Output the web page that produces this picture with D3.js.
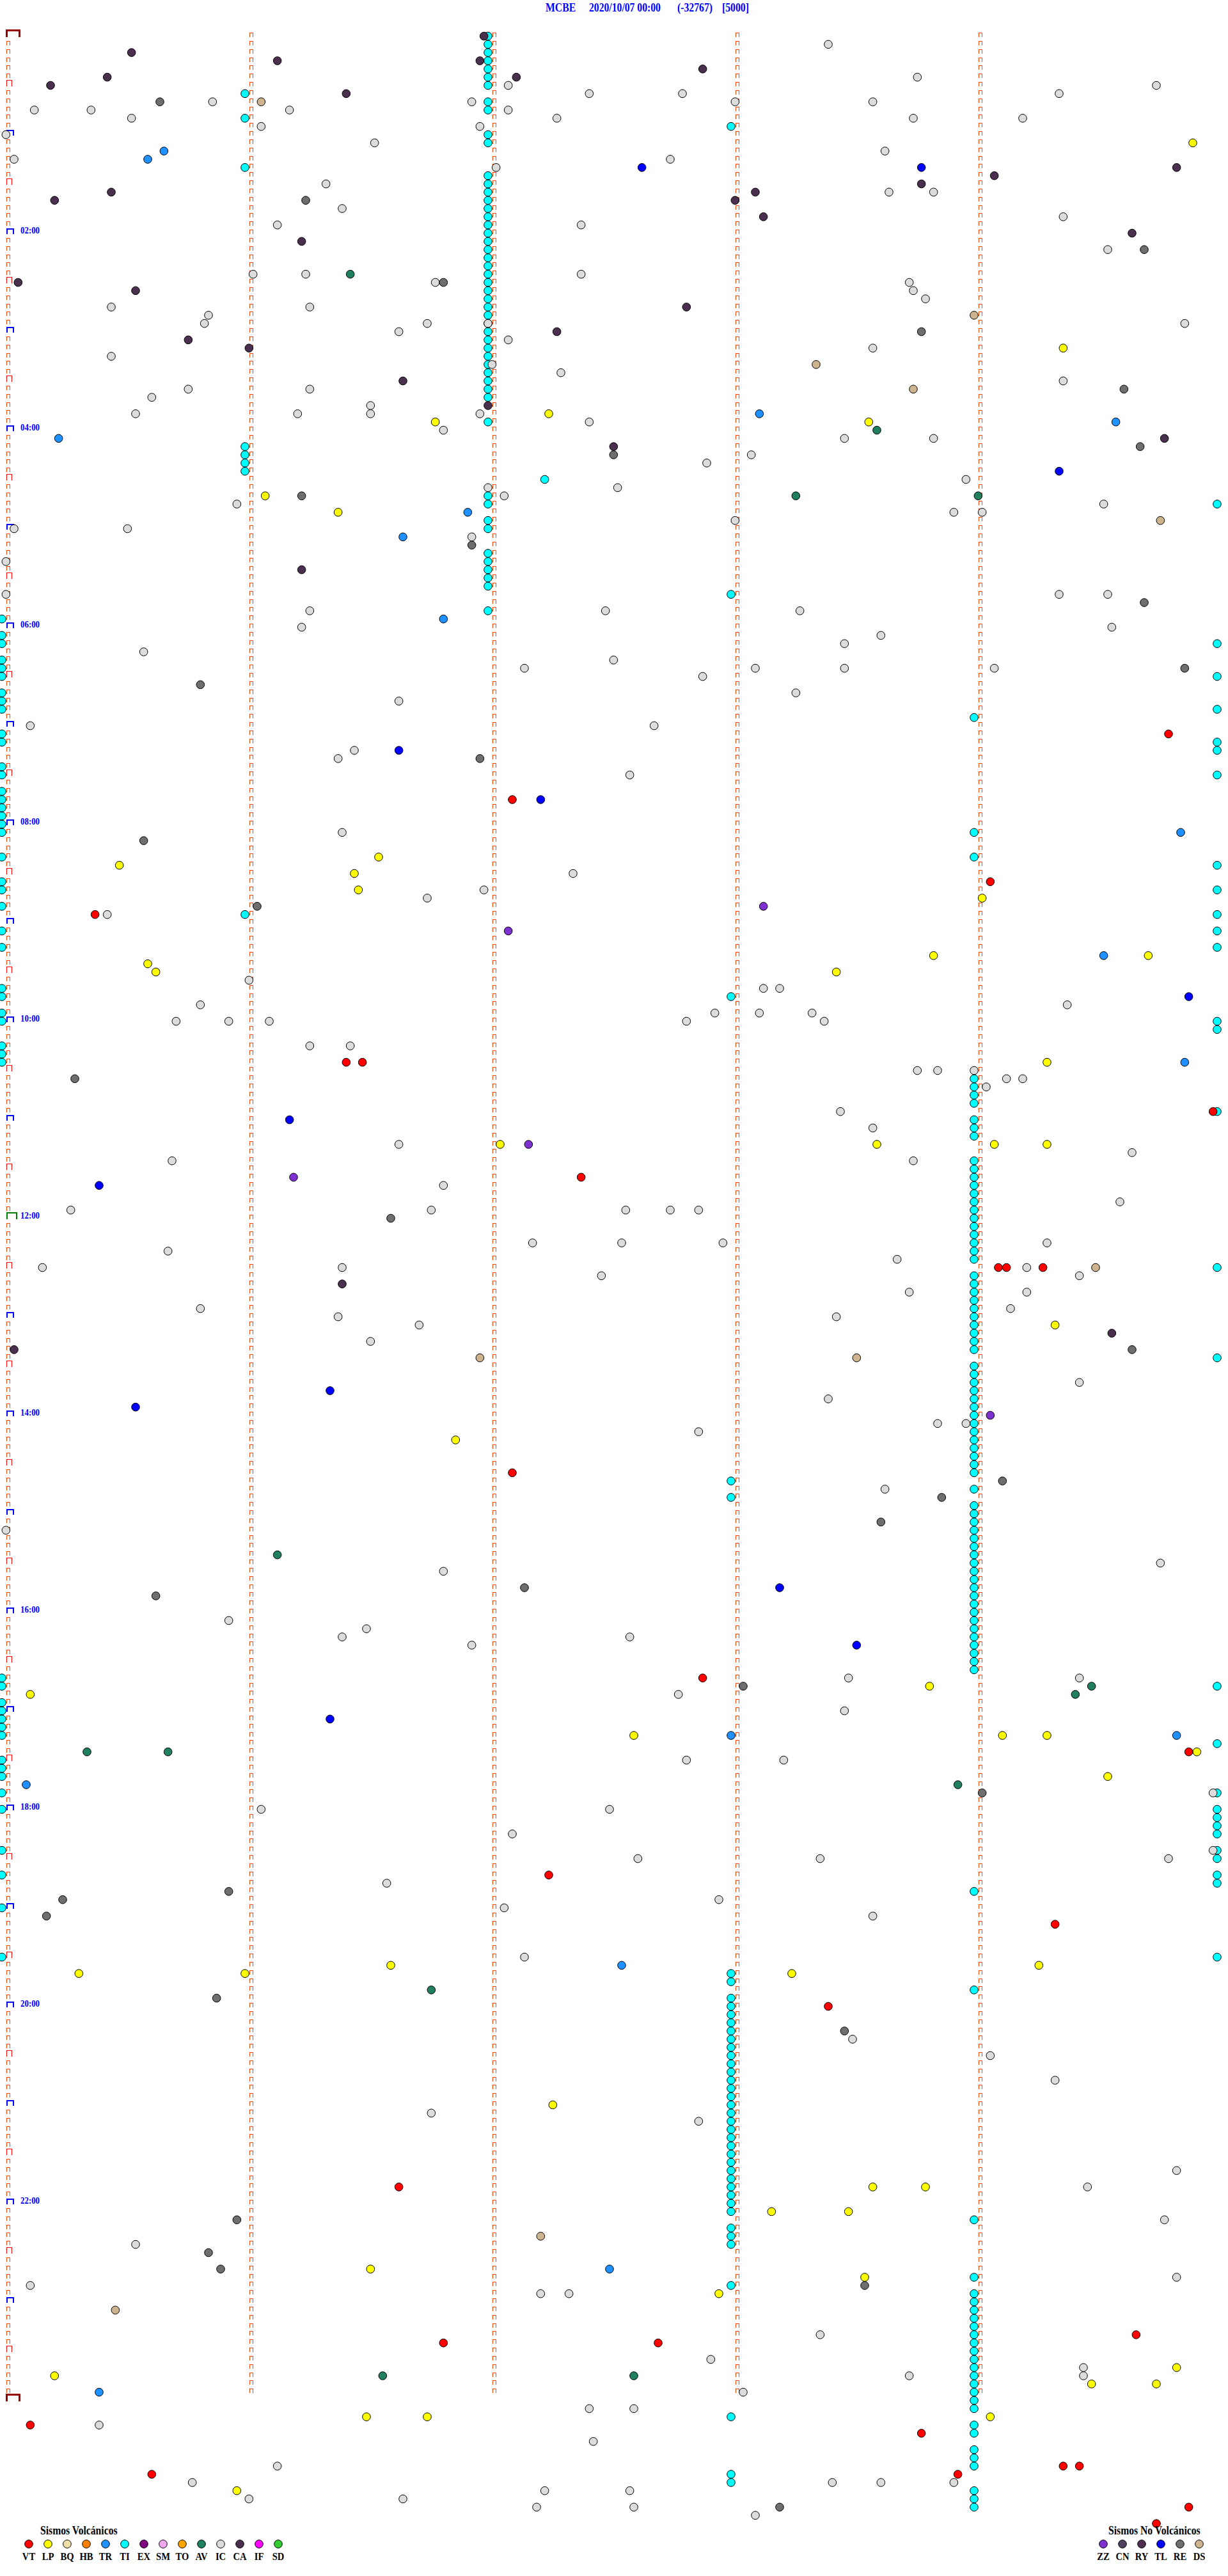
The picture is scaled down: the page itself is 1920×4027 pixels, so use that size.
<!DOCTYPE html>
<html><head><meta charset="utf-8">
<script src="https://cdn.jsdelivr.net/npm/d3@7"></script>
<style>body{margin:0;background:#fff}svg{display:block}</style>
</head><body><svg id="c" width="1920" height="4027"></svg>
<script>
// ---- header ----
const station = "MCBE";
const startTime = "2020/10/07 00:00";
const minCount = "(-32767)";
const scaleVal = "[5000]";

// ---- time axis: 288 lines of 5 minutes, minute ticks at 0,60,120,180,240 s ----
const lineCount = 288;
const minuteTicks = [0, 60, 120, 180, 240];
const hourLabelLines = [24, 48, 72, 96, 120, 144, 168, 192, 216, 240, 264];
const hourLabels = ["02:00","04:00","06:00","08:00","10:00","12:00","14:00","16:00","18:00","20:00","22:00"];

// ---- legend ----
const volcCodes = ["VT","LP","BQ","HB","TR","TI","EX","SM","TO","AV","IC","CA","IF","SD"];
const volcColors = ["#FF0000","#FFFF00","#F0E0A8","#FF8000","#1E90FF","#00FFFF","#800080","#F0A8F0","#FFA500","#1F7F5F","#DCDCDC","#4A2F4F","#FF00FF","#33CC33"];
const nonVolcCodes = ["ZZ","CN","RY","TL","RE","DS"];
const nonVolcColors = ["#7F30D0","#504060","#503050","#0000FF","#6E6E6E","#CDB48E"];

// ---- events: [line (5-min row), seconds into line] ----
// TI (cyan) stacked near the minute ticks, listed by line
const TI_0s = [71,73,74,76,77,78,80,81,82,85,86,89,90,92,93,94,95,96,97,100,103,104,106,109,111,116,117,119,120,123,124,125,200,201,203,204,205,206,207,210,211,212,214,216,221,224,228,234];
const TI_60s = [7,10,16,50,51,52,53,107];
const TI_120s = [0,1,2,3,4,5,6,8,9,12,13,17,18,19,20,21,22,23,24,25,26,27,28,29,30,31,32,33,34,35,36,37,38,39,40,41,42,43,44,47,56,57,59,60,63,64,65,66,67,70];
const TI_180s = [11,68,117,176,178,236,237,239,240,241,242,243,244,245,246,247,248,249,250,251,252,253,254,255,256,257,258,259,260,261,262,263,264,265,267,268,269,274,290,297,298];
const TI_240s = [83,97,100,127,128,129,130,132,133,134,137,138,139,140,141,142,143,144,145,146,147,148,149,151,152,153,154,155,156,157,158,159,160,162,163,164,165,166,167,168,169,170,171,172,173,174,175,177,179,180,181,182,183,184,185,186,187,188,189,190,191,192,193,194,195,196,197,198,199,226,238,266,273,275,276,277,278,279,280,281,282,283,284,285,286,287,288,289,291,292,294,295,296,299,300,301];
const TI_300s = [57,74,78,82,86,87,90,101,104,107,109,111,120,121,131,150,161,201,208,214,216,217,218,219,221,222,224,225,234];
const TI_other = [[54,134]];

const IC = [[1,204],[5,226],[6,125],[6,285],[7,145],[7,168],[7,261],[8,52],[8,116],[8,181],[8,215],[9,8],[9,22],[9,71],[9,125],[10,32],[10,137],[10,225],[10,252],[11,64],[11,118],[12,1],[13,92],[14,218],[15,3],[15,165],[16,122],[18,80],[19,219],[19,230],[21,84],[22,262],[23,68],[23,143],[26,273],[29,62],[29,75],[29,143],[30,107],[30,224],[31,225],[32,228],[33,27],[33,76],[34,51],[35,50],[35,105],[35,120],[35,292],[36,98],[37,125],[38,215],[39,27],[40,121],[41,138],[42,262],[43,46],[43,76],[44,37],[45,91],[46,33],[46,73],[46,91],[46,118],[47,145],[48,109],[49,208],[49,230],
[51,185],[52,174],[54,238],[55,120],[55,152],[56,124],[57,58],[57,272],[58,235],[58,242],[59,181],[60,3],[60,31],[61,116],[64,1],[68,1],[68,261],[68,273],[70,76],[70,149],[70,197],[72,74],[72,274],[73,217],[74,208],[75,35],[76,151],[77,129],[77,186],[77,208],[77,245],[78,173],[80,196],[81,98],[84,7],[84,161],[87,87],[88,83],[90,155],[97,84],
[102,141],[104,119],[105,105],[107,26],[115,61],[116,188],[116,192],[118,49],[118,263],[119,176],[119,187],[119,200],[120,43],[120,56],[120,66],[120,169],[120,203],[123,76],[123,86],[126,226],[126,231],[126,240],[127,248],[127,252],[128,243],[131,207],[133,215],[135,98],[136,279],[137,42],[137,225],[140,109],[142,276],[143,17],[143,106],[143,154],[143,165],[143,172],[147,131],[147,153],[147,178],[147,258],[148,41],[149,221],[150,10],[150,84],[150,253],[151,148],[151,266],
[153,224],[153,253],[155,49],[155,249],[156,83],[156,206],[157,103],[159,91],[164,266],[166,204],[169,231],[169,238],[170,172],[177,218],[182,1],[186,286],[187,109],[193,56],[194,90],[195,84],[195,155],[196,116],[200,209],[200,266],
[202,167],[204,208],[210,169],[210,193],[214,299],[216,64],[216,150],[219,126],[221,299],[222,157],[222,202],[222,288],[225,95],[227,177],[228,124],[229,215],[234,129],[244,210],[246,244],[249,260],
[253,106],[254,172],[260,290],[262,268],[266,287],[269,33],[273,290],[274,7],[275,133],[275,140],[280,202],[283,175],[284,267],[285,224],[285,267],[287,183],[289,145],[289,156],[291,24],[293,146],[296,68],[298,47],[298,205],[298,217],[298,235],[299,134],[299,155],[300,61],[300,99],[301,132],[301,156],[302,186]];

const CA = [[0,119],[2,32],[3,68],[3,118],[4,173],[5,26],[5,127],[6,12],[7,85],[16,290],[17,245],[18,227],[19,27],[19,186],[20,13],[20,181],[22,188],[24,279],[25,74],[30,4],[31,33],[33,169],[36,137],[37,46],[38,61],[42,99],[45,120],[49,287],[50,151],[65,74],[152,84],[158,274],[160,3]];

const RE = [[8,39],[20,75],[26,282],[30,109],[36,227],[43,277],[50,281],[51,151],[56,74],[62,116],[69,282],[77,292],[79,49],[88,118],[98,35],[106,63],[127,18],[144,96],[160,279],[176,247],[178,232],[181,217],[189,129],[190,38],[201,183],[214,242],[226,56],[227,15],[229,11],[239,53],[243,208],[266,58],[270,51],[272,54],[274,213],[301,192]];

const TR = [[14,40],[15,36],[46,187],[47,275],[49,14],[58,115],[61,99],[71,109],[97,291],[112,272],[125,292],[207,180],[207,290],[213,6],[235,153],[272,150],[287,24]];

const TL = [[16,158],[16,227],[53,261],[87,98],[93,133],[117,293],[132,71],[140,24],[165,81],[167,33],[189,192],[196,211],[205,81]];

const LP = [[13,294],[38,262],[46,135],[47,107],[47,214],[56,65],[58,83],[100,93],[101,29],[102,87],[104,88],[105,242],[112,230],[112,283],[113,36],[114,38],[114,206],[125,258],[135,123],[135,216],[135,245],[135,258],[157,260],[171,112],[201,229],[202,7],[207,156],[207,247],[207,258],[209,295],[212,273],[235,96],[235,256],[236,19],[236,60],[236,195],[252,136],[262,215],[262,228],[265,190],[265,209],[272,91],[273,213],[275,177],[284,290],[285,13],[286,269],[286,285],[290,90],[290,105],[290,244],[299,58]];

const VT = [[85,288],[93,126],[103,244],[107,23],[125,85],[125,89],[131,299],[139,143],[150,246],[150,248],[150,257],[175,126],[200,173],[209,293],[224,135],[230,260],[240,204],[262,98],[280,280],[281,109],[281,162],[291,7],[292,227],[296,262],[296,266],[297,37],[297,236],[301,293],[303,285]];

const AV = [[29,86],[48,216],[56,196],[56,241],[185,68],[201,269],[202,265],[209,21],[209,41],[213,236],[238,106],[285,94],[285,156]];

const DS = [[8,64],[34,240],[40,201],[43,225],[59,286],[150,270],[161,118],[161,211],[268,133],[277,28]];

const ZZ = [[106,188],[109,125],[135,130],[139,72],[168,244]];

// ---- drawing ----
const svg = d3.select("#c");
const x = d3.scaleLinear().domain([0, 300]).range([3, 1903]);
const y = d3.scaleLinear().domain([0, lineCount]).range([57, 3753]);
const serif = "'Liberation Serif','Times New Roman',serif";

function condText(g, px, py, txt, size, sx, fill, anchor) {
  g.append("g").attr("transform", `translate(${px},${py}) scale(${sx},1)`)
    .append("text").attr("x", 0).attr("y", 0)
    .attr("font-family", serif).attr("font-weight", "bold").attr("font-size", size)
    .attr("fill", fill).attr("text-anchor", anchor || "start").text(txt);
}

// header
const head = svg.append("g");
condText(head, 853, 18, station, 18, 0.875, "#0000FF");
condText(head, 921, 18, startTime, 18, 0.872, "#0000FF");
condText(head, 1059, 18, minCount, 18, 0.875, "#0000FF");
condText(head, 1129, 18, scaleVal, 18, 0.875, "#0000FF");

// minute tick markers
const marks = svg.append("g").attr("fill", "none").attr("shape-rendering", "crispEdges");
const lines = d3.range(lineCount);
minuteTicks.forEach(s => {
  const X = Math.round(x(s) + 7) + 0.5;
  lines.forEach(l => {
    const Y = Math.round(y(l)) + 0.5;
    if (s === 0 && l === 0) {
      marks.append("path").attr("d", `M${X},${Y} V${Y-10} H${X+20} V${Y}`).attr("stroke", "#990000").attr("stroke-width", 2.5);
    } else if (s === 0 && l === 144) {
      marks.append("path").attr("d", `M${X},${Y} V${Y-10} H${X+15} V${Y}`).attr("stroke", "#008000").attr("stroke-width", 2);
    } else if (s === 0 && l % 12 === 0) {
      marks.append("path").attr("d", `M${X},${Y} V${Y-8} H${X+10} V${Y}`).attr("stroke", "#0000FF").attr("stroke-width", 2);
    } else if (s === 0 && l % 6 === 0) {
      marks.append("path").attr("d", `M${X},${Y} V${Y-9} H${X+8} V${Y}`).attr("stroke", "#FF0000").attr("stroke-width", 1.3);
    } else {
      marks.append("path").attr("d", `M${X},${Y} V${Y-6} H${X+5} V${Y}`).attr("stroke", "#FF4500").attr("stroke-width", 1);
    }
  });
});
{
  const X = Math.round(x(0) + 7) + 0.5, Y = Math.round(y(lineCount)) + 0.5;
  marks.append("path").attr("d", `M${X},${Y} V${Y-10} H${X+20} V${Y}`).attr("stroke", "#990000").attr("stroke-width", 2.5);
}

// hour labels
const hl = svg.append("g");
hourLabels.forEach((t, i) => condText(hl, 32, y(hourLabelLines[i]) - 0.5, t, 15, 0.86, "#0000FF"));

// events
function toPairs(arr, s) { return arr.map(l => [l, s]); }
const TI = [].concat(toPairs(TI_0s, 0), toPairs(TI_60s, 60), toPairs(TI_120s, 120), toPairs(TI_180s, 180), toPairs(TI_240s, 240), toPairs(TI_300s, 300), TI_other);
const colorOf = {};
volcCodes.forEach((c, i) => colorOf[c] = volcColors[i]);
nonVolcCodes.forEach((c, i) => colorOf[c] = nonVolcColors[i]);
const layers = [["TI", TI], ["IC", IC], ["RE", RE], ["DS", DS], ["AV", AV], ["LP", LP], ["TR", TR], ["TL", TL], ["ZZ", ZZ], ["VT", VT], ["CA", CA]];
const dots = svg.append("g");
layers.forEach(([code, data]) => {
  dots.selectAll(null).data(data).enter().append("circle")
    .attr("cx", d => x(d[1])).attr("cy", d => y(d[0]) - 0.5).attr("r", 6.3)
    .attr("fill", colorOf[code]).attr("stroke", "#000").attr("stroke-width", 1);
});

// legends
const lg = svg.append("g");
condText(lg, 63, 3962, "Sismos Volcánicos", 18, 0.87, "#000");
volcCodes.forEach((c, i) => {
  const cx = 45 + 30 * i;
  lg.append("circle").attr("cx", cx).attr("cy", 3977).attr("r", 6.3).attr("fill", volcColors[i]).attr("stroke", "#000");
  condText(lg, cx, 4002, c, 17, 0.86, "#000", "middle");
});
condText(lg, 1733, 3962, "Sismos No Volcánicos", 18, 0.87, "#000");
nonVolcCodes.forEach((c, i) => {
  const cx = 1725 + 30 * i;
  lg.append("circle").attr("cx", cx).attr("cy", 3977).attr("r", 6.3).attr("fill", nonVolcColors[i]).attr("stroke", "#000");
  condText(lg, cx, 4002, c, 17, 0.86, "#000", "middle");
});
</script></body></html>
